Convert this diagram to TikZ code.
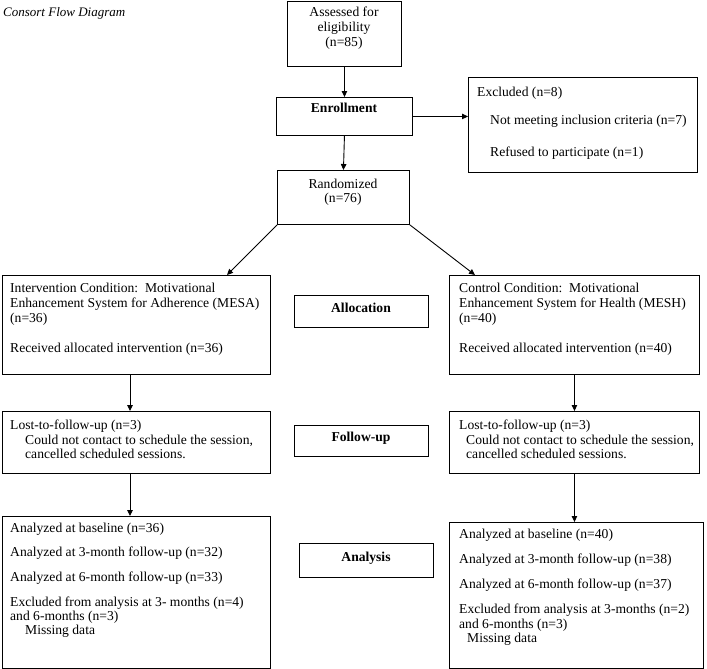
\documentclass[tikz,border=0pt]{standalone}
\usepackage{fontspec}
\setmainfont{Liberation Serif}
\usetikzlibrary{arrows.meta,calc}
\begin{document}
\begin{tikzpicture}[x=1pt,y=-1pt,
  box/.style={draw, line width=0.9pt, inner sep=0pt, anchor=north west},
  txt/.style={inner sep=0pt, anchor=base west, font=\fontsize{13.6}{15}\selectfont},
  ctxt/.style={inner sep=0pt, anchor=base, font=\fontsize{13.6}{15}\selectfont},
  btxt/.style={inner sep=0pt, anchor=base, font=\fontsize{13.6}{15}\selectfont\bfseries},
  arr/.style={draw, line width=0.9pt, -{Triangle[length=6pt,width=5.5pt]}}]
\useasboundingbox (0,0) rectangle (707,669);
% title
\node[txt, font=\fontsize{13}{15}\selectfont\itshape] (title) at (3,17) {Consort Flow Diagram};
% boxes
\node[box, minimum width=114pt, minimum height=65pt] (assess) at (287,1) {};
\node[box, minimum width=136pt, minimum height=38pt] (enroll) at (276,97) {};
\node[box, minimum width=229pt, minimum height=95pt] (excl) at (468,77) {};
\node[box, minimum width=132pt, minimum height=54pt] (rand) at (277,170) {};
\node[box, minimum width=268pt, minimum height=99pt] (intv) at (2,275) {};
\node[box, minimum width=250pt, minimum height=99pt] (ctrl) at (449,275) {};
\node[box, minimum width=134pt, minimum height=32pt] (alloc) at (294,295) {};
\node[box, minimum width=268pt, minimum height=62pt] (lostL) at (2,411) {};
\node[box, minimum width=250pt, minimum height=62pt] (lostR) at (449,411) {};
\node[box, minimum width=134pt, minimum height=31pt] (fu) at (294,425) {};
\node[box, minimum width=268pt, minimum height=152pt] (anaL) at (2,516) {};
\node[box, minimum width=254pt, minimum height=146pt] (anaR) at (449,522) {};
\node[box, minimum width=134pt, minimum height=34pt] (ana) at (299,543) {};
% texts
\node[ctxt] (a1) at (344,17) {Assessed for};
\node[ctxt] (a2) at (344,32) {eligibility};
\node[ctxt] (a3) at (344,47) {(n=85)};
\node[btxt] (e1) at (344,113) {Enrollment};
\node[txt] (x1) at (477,96) {Excluded (n=8)};
\node[txt] (x2) at (490,124) {Not meeting inclusion criteria (n=7)};
\node[txt] (x3) at (490,156) {Refused to participate (n=1)};
\node[ctxt] (r1) at (343,188) {Randomized};
\node[ctxt] (r2) at (343,202) {(n=76)};
\node[txt] (i1) at (10,292) {Intervention Condition:\ \ Motivational};
\node[txt] (i2) at (10,307) {Enhancement System for Adherence (MESA)};
\node[txt] (i3) at (10,322) {(n=36)};
\node[txt] (i4) at (10,352) {Received allocated intervention (n=36)};
\node[txt] (c1) at (459,292) {Control Condition:\ \ Motivational};
\node[txt] (c2) at (459,307) {Enhancement System for Health (MESH)};
\node[txt] (c3) at (459,322) {(n=40)};
\node[txt] (c4) at (459,352) {Received allocated intervention (n=40)};
\node[btxt] (al) at (361,312) {Allocation};
\node[txt] (l1) at (10,429) {Lost-to-follow-up (n=3)};
\node[txt] (l2) at (25,444) {Could not contact to schedule the session,};
\node[txt] (l3) at (25,458) {cancelled scheduled sessions.};
\node[txt] (m1) at (459,429) {Lost-to-follow-up (n=3)};
\node[txt] (m2) at (466,444) {Could not contact to schedule the session,};
\node[txt] (m3) at (466,458) {cancelled scheduled sessions.};
\node[btxt] (fl) at (361,441) {Follow-up};
\node[txt] (p1) at (10,532) {Analyzed at baseline (n=36)};
\node[txt] (p2) at (10,556) {Analyzed at 3-month follow-up (n=32)};
\node[txt] (p3) at (10,581) {Analyzed at 6-month follow-up (n=33)};
\node[txt] (p4) at (10,606) {Excluded from analysis at 3- months (n=4)};
\node[txt] (p5) at (10,620) {and 6-months (n=3)};
\node[txt] (p6) at (25,634) {Missing data};
\node[txt] (q1) at (459,538) {Analyzed at baseline (n=40)};
\node[txt] (q2) at (459,563) {Analyzed at 3-month follow-up (n=38)};
\node[txt] (q3) at (459,588) {Analyzed at 6-month follow-up (n=37)};
\node[txt] (q4) at (459,613) {Excluded from analysis at 3-months (n=2)};
\node[txt] (q5) at (459,628) {and 6-months (n=3)};
\node[txt] (q6) at (467,642) {Missing data};
\node[btxt] (an) at (366,561) {Analysis};
% connectors
\draw[arr] (assess.south) -- (enroll.north);
\draw[arr] (enroll.east) -- (enroll.east -| excl.west);
\draw[arr] (enroll.south) -- (rand.north);
\draw[arr] (rand.south west) -- ($(intv.north west)+(225,0)$);
\draw[arr] (rand.south east) -- ($(ctrl.north west)+(26,0)$);
\draw[arr] ($(intv.south west)+(128,0)$) -- ($(lostL.north west)+(128,0)$);
\draw[arr] (ctrl.south) -- (lostR.north);
\draw[arr] ($(lostL.south west)+(128,0)$) -- ($(anaL.north west)+(128,0)$);
\draw[arr] (lostR.south) -- (lostR.south |- anaR.north);
\end{tikzpicture}
\end{document}
